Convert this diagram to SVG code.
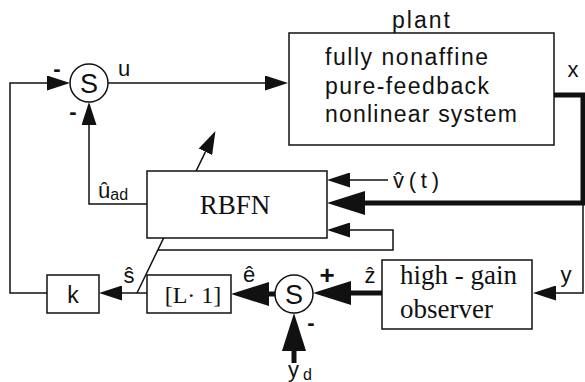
<svg xmlns="http://www.w3.org/2000/svg" width="585" height="382" viewBox="0 0 585 382">
<style>
.box{fill:#fff;stroke:#111;stroke-width:1.5}
.ln{fill:none;stroke:#111;stroke-width:1.5}
.thk{fill:none;stroke:#111;stroke-width:5}
.sans{font-family:"Liberation Sans",Arial,sans-serif;fill:#111}
.serif{font-family:"Liberation Serif","Times New Roman",serif;fill:#111}
.sign{font-family:"Liberation Sans",Arial,sans-serif;font-weight:bold;fill:#111}
</style>
<defs>
<marker id="ah" markerUnits="userSpaceOnUse" markerWidth="23" markerHeight="15" viewBox="0 0 23 15" refX="0" refY="7.5" orient="auto"><path d="M0,0 L23,7.5 L0,15 z" fill="#111"/></marker>
<marker id="ahk" markerUnits="userSpaceOnUse" markerWidth="38" markerHeight="24" viewBox="0 0 38 24" refX="0" refY="12" orient="auto"><path d="M0,0 L38,12 L0,24 z" fill="#111"/></marker>
</defs>
<rect width="585" height="382" fill="#fff"/>
<g id="connectors">
<path class="ln" d="M47,293 H10 V83 H47" marker-end="url(#ah)"/>
<path class="ln" d="M108,83 H265" marker-end="url(#ah)"/>
<path class="ln" d="M147,204 H89 V125" marker-end="url(#ah)"/>
<path class="ln" d="M137,293 L205.4,151.8" marker-end="url(#ah)"/>
<path class="ln" d="M147,293 H122" marker-end="url(#ah)"/>
<path class="thk" d="M554,95 H583 V203 H365" stroke-width="4" marker-end="url(#ahk)"/>
<path class="ln" d="M583,203 V293 H556" stroke-width="2" marker-end="url(#ah)"/>
<path class="ln" d="M388,180 H350" marker-end="url(#ah)"/>
<path class="ln" d="M157.8,250 H393 V230 H350" marker-end="url(#ah)"/>
<path class="thk" d="M275,294 H269" marker-end="url(#ahk)"/>
<path class="thk" d="M382,293 H351" marker-end="url(#ahk)"/>
<path class="thk" d="M294,363 V351" marker-end="url(#ahk)"/>
</g>
<g id="sum1">
<circle cx="89" cy="83" r="19" class="box"/>
<text x="89" y="93" class="sans" font-size="27" text-anchor="middle">S</text>
<text x="57" y="76" class="sign" font-size="22" text-anchor="middle">-</text>
<text x="73" y="119" class="sign" font-size="22" text-anchor="middle">-</text>
</g>
<g id="plant">
<rect x="289" y="33" width="265" height="112" class="box"/>
<text x="421" y="28" class="sans" font-size="23" text-anchor="middle" textLength="58" lengthAdjust="spacing">plant</text>
<text x="325" y="65" class="sans" font-size="23" textLength="163" lengthAdjust="spacing">fully nonaffine</text>
<text x="325" y="94" class="sans" font-size="23" textLength="164" lengthAdjust="spacing">pure-feedback</text>
<text x="325" y="122" class="sans" font-size="23" textLength="192" lengthAdjust="spacing">nonlinear system</text>
</g>
<g id="rbfn">
<rect x="147" y="171" width="180" height="67" class="box"/>
<text x="235" y="214" class="serif" font-size="27" text-anchor="middle">RBFN</text>
</g>
<g id="k">
<rect x="47" y="275" width="52" height="38" class="box"/>
<text x="73" y="303" class="sans" font-size="23" text-anchor="middle">k</text>
</g>
<g id="lambda">
<rect x="147" y="275" width="84" height="38" class="box"/>
<text x="193" y="303" class="serif" font-size="24" text-anchor="middle">[L· 1]</text>
</g>
<g id="sum2">
<circle cx="294" cy="294" r="19" class="box"/>
<text x="294" y="304" class="sans" font-size="27" text-anchor="middle">S</text>
<text x="327" y="284" class="sign" font-size="26" text-anchor="middle">+</text>
<text x="311" y="330" class="sign" font-size="22" text-anchor="middle">-</text>
</g>
<g id="observer">
<rect x="382" y="260" width="150" height="69" class="box"/>
<text x="400" y="284" class="serif" font-size="27">high - gain</text>
<text x="400" y="318" class="serif" font-size="27">observer</text>
</g>
<g id="labels">
<text x="118" y="76" class="sans" font-size="22">u</text>
<text x="573" y="77" class="sans" font-size="22" text-anchor="middle">x</text>
<text x="393" y="188" class="sans" font-size="22" textLength="46" lengthAdjust="spacing">v̂(t)</text>
<text x="98" y="198" class="sans" font-size="22">û<tspan font-size="16" dy="2">ad</tspan></text>
<text x="129" y="283" class="sans" font-size="22" text-anchor="middle">ŝ</text>
<text x="249" y="282" class="sans" font-size="22" text-anchor="middle">ê</text>
<text x="370" y="283" class="sans" font-size="22" text-anchor="middle">ẑ</text>
<text x="566" y="282" class="sans" font-size="22" text-anchor="middle">y</text>
<text x="288" y="377" class="sans" font-size="22">y<tspan font-size="16" dx="4" dy="3">d</tspan></text>
</g>
</svg>
